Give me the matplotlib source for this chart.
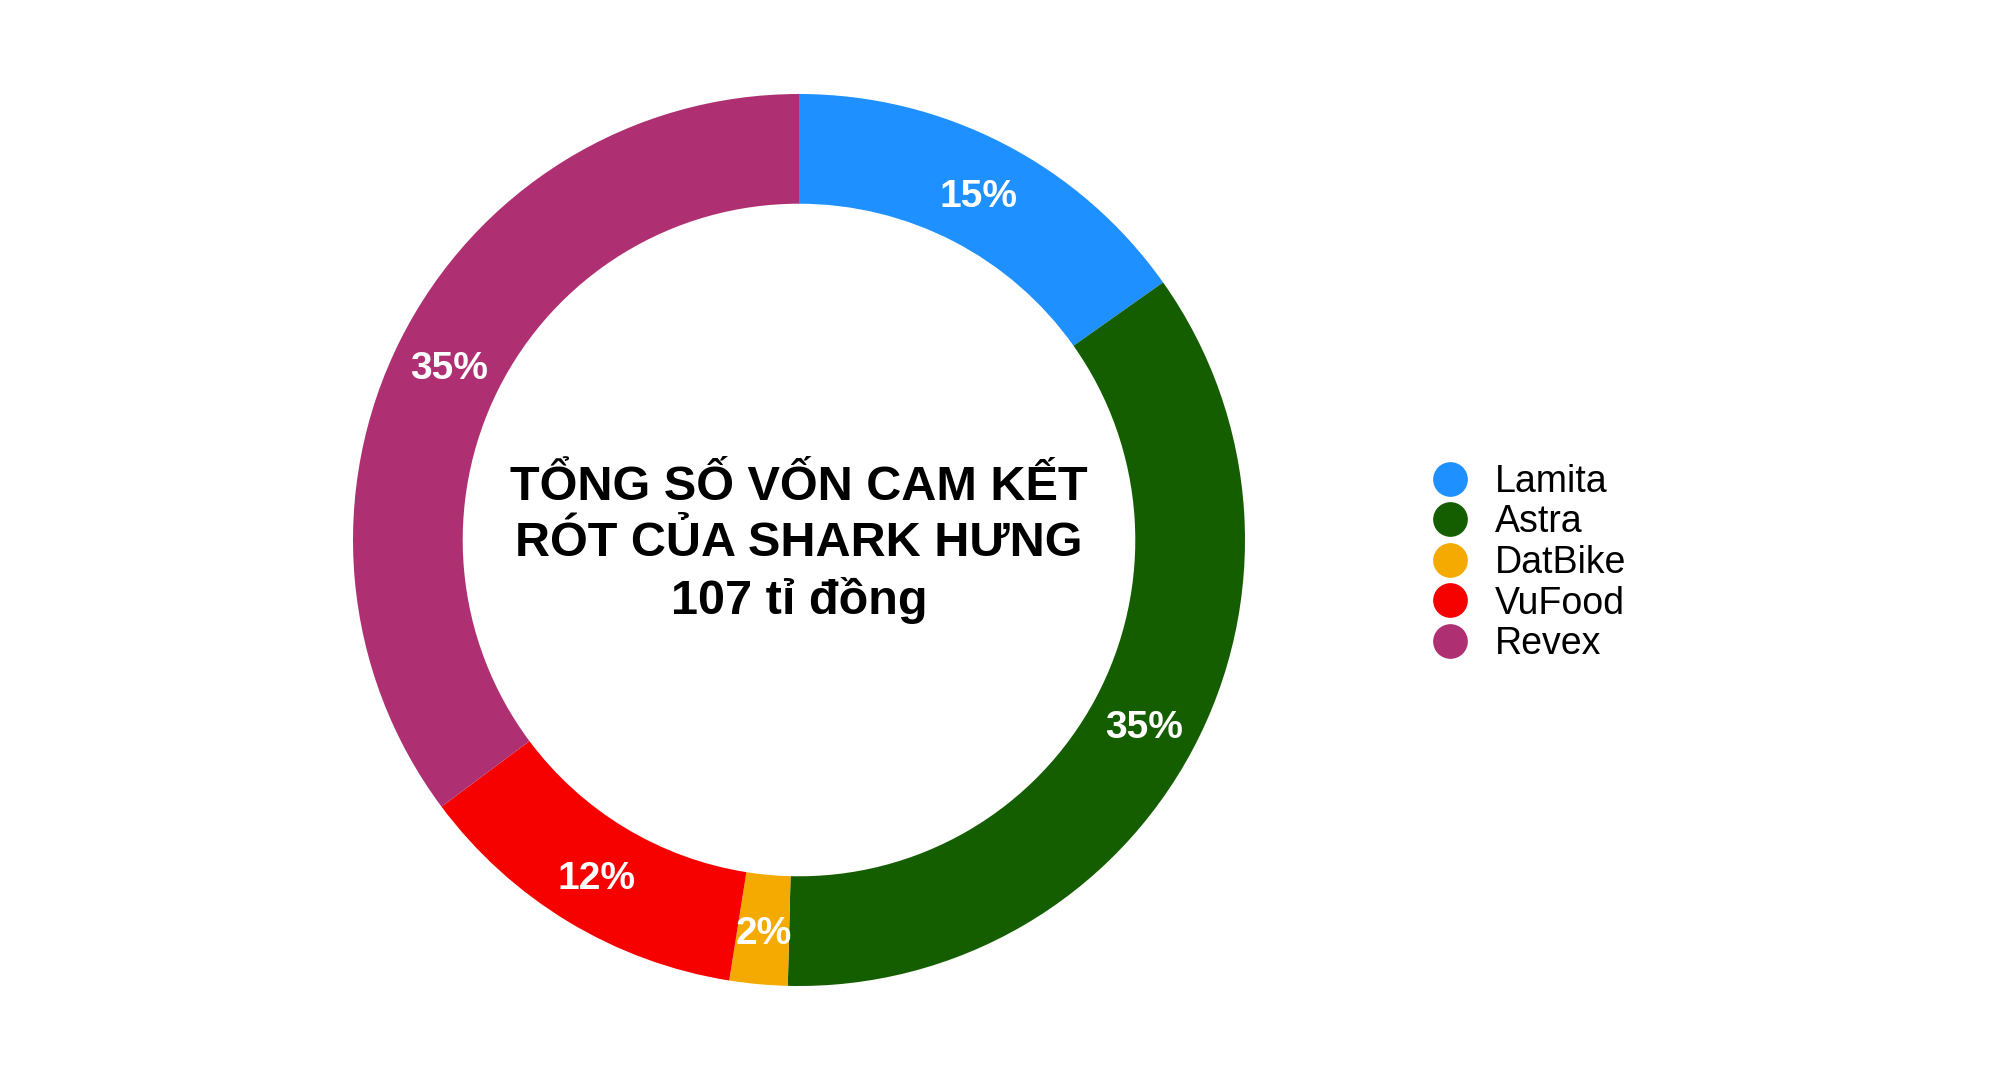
import matplotlib
matplotlib.use("Agg")
import matplotlib.pyplot as plt
from matplotlib.lines import Line2D

plt.rcParams['font.family'] = ['Liberation Sans', 'DejaVu Sans']

# Datos del grafico
startups = ['Lamita', 'Astra', 'DatBike', 'VuFood', 'Revex']
porcentajes = [15.2, 35.2, 2.1, 12.3, 35.2]
colores = ['#1E90FF', '#155E00', '#F4AA00', '#F70000', '#AF3072']
titulo = 'TỔNG SỐ VỐN CAM KẾT\nRÓT CỦA SHARK HƯNG\n107 tỉ đồng'

fig = plt.figure(figsize=(20, 10.8), dpi=100)

# Dona principal
cx, cy, r = 799, 540, 446
ax = fig.add_axes([(cx - r) / 2000, (1080 - cy - r) / 1080, 2 * r / 2000, 2 * r / 1080])
wedges, textos, autotextos = ax.pie(
    porcentajes, colors=colores, startangle=90, counterclock=False,
    autopct=lambda p: '{:.0f}%'.format(p), pctdistance=0.877,
    wedgeprops=dict(width=0.246, linewidth=0),
    textprops=dict(color='white', fontsize=28, fontweight='bold'))
# bajar un poco las etiquetas
for t in autotextos:
    x, y = t.get_position()
    t.set_position((x, y - 0.009))
ax.set_xlim(-1, 1)
ax.set_ylim(-1, 1)
ax.set_aspect('equal')
ax.axis('off')

# Texto central
ax.text(0, -0.01, titulo, ha='center', va='center', fontsize=35,
        fontweight='bold', linespacing=1.3, color='black')

# Leyenda
handles = [Line2D([0], [0], marker='o', linestyle='none', markersize=25,
                  markerfacecolor=c, markeredgewidth=0) for c in colores]
fig.legend(handles, startups, loc='center left', bbox_to_anchor=(1409 / 2000, 1 - 563 / 1080),
           frameon=False, fontsize=27, handletextpad=0.6, labelspacing=0.12,
           handlelength=1.2, borderpad=0)

fig.savefig('out.png', dpi=100, facecolor='white')
